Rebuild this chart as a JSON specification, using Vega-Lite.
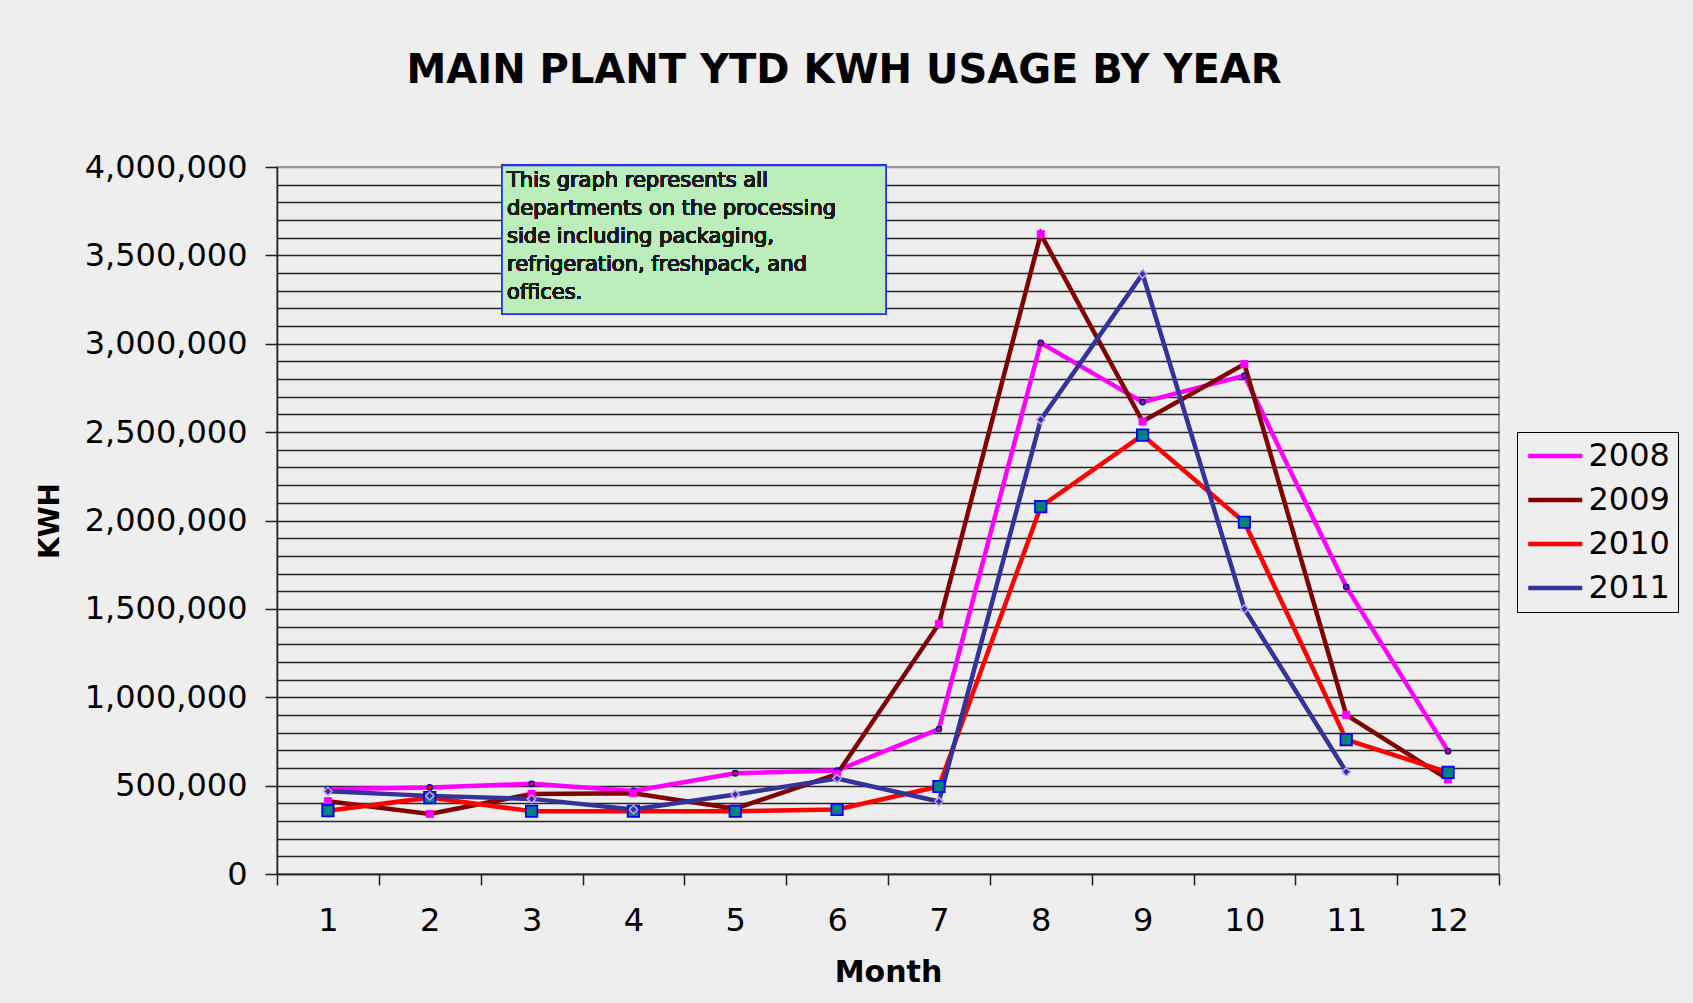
{
  "$schema": "https://vega.github.io/schema/vega-lite/v6.json",
  "autosize": "none",
  "width": 1222,
  "height": 707,
  "padding": {"left": 277, "top": 167, "right": 194, "bottom": 129},
  "background": "#eeeeee",
  "config": {
    "view": {"stroke": "#999999", "strokeWidth": 2, "fill": "#eeeeee"},
    "font": "DejaVu Sans"
  },
  "title": {
    "text": "MAIN PLANT YTD KWH USAGE BY YEAR",
    "font": "DejaVu Sans",
    "fontSize": 40,
    "fontWeight": "bold",
    "color": "black",
    "anchor": "middle",
    "frame": "group",
    "dx": -44,
    "offset": 60
  },
  "data": {
    "values": [
      {"month": 1, "year": "2008", "kwh": 480000},
      {"month": 2, "year": "2008", "kwh": 490000},
      {"month": 3, "year": "2008", "kwh": 510000},
      {"month": 4, "year": "2008", "kwh": 470000},
      {"month": 5, "year": "2008", "kwh": 570000},
      {"month": 6, "year": "2008", "kwh": 585000},
      {"month": 7, "year": "2008", "kwh": 820000},
      {"month": 8, "year": "2008", "kwh": 3005000},
      {"month": 9, "year": "2008", "kwh": 2670000},
      {"month": 10, "year": "2008", "kwh": 2820000},
      {"month": 11, "year": "2008", "kwh": 1625000},
      {"month": 12, "year": "2008", "kwh": 695000},
      {"month": 1, "year": "2009", "kwh": 412000},
      {"month": 2, "year": "2009", "kwh": 340000},
      {"month": 3, "year": "2009", "kwh": 453000},
      {"month": 4, "year": "2009", "kwh": 457000},
      {"month": 5, "year": "2009", "kwh": 370000},
      {"month": 6, "year": "2009", "kwh": 565000},
      {"month": 7, "year": "2009", "kwh": 1415000},
      {"month": 8, "year": "2009", "kwh": 3620000},
      {"month": 9, "year": "2009", "kwh": 2560000},
      {"month": 10, "year": "2009", "kwh": 2885000},
      {"month": 11, "year": "2009", "kwh": 900000},
      {"month": 12, "year": "2009", "kwh": 535000},
      {"month": 1, "year": "2010", "kwh": 358000},
      {"month": 2, "year": "2010", "kwh": 432000},
      {"month": 3, "year": "2010", "kwh": 355000},
      {"month": 4, "year": "2010", "kwh": 355000},
      {"month": 5, "year": "2010", "kwh": 355000},
      {"month": 6, "year": "2010", "kwh": 365000},
      {"month": 7, "year": "2010", "kwh": 495000},
      {"month": 8, "year": "2010", "kwh": 2078000},
      {"month": 9, "year": "2010", "kwh": 2483000},
      {"month": 10, "year": "2010", "kwh": 1990000},
      {"month": 11, "year": "2010", "kwh": 760000},
      {"month": 12, "year": "2010", "kwh": 575000},
      {"month": 1, "year": "2011", "kwh": 468000},
      {"month": 2, "year": "2011", "kwh": 442000},
      {"month": 3, "year": "2011", "kwh": 425000},
      {"month": 4, "year": "2011", "kwh": 365000},
      {"month": 5, "year": "2011", "kwh": 450000},
      {"month": 6, "year": "2011", "kwh": 540000},
      {"month": 7, "year": "2011", "kwh": 410000},
      {"month": 8, "year": "2011", "kwh": 2570000},
      {"month": 9, "year": "2011", "kwh": 3395000},
      {"month": 10, "year": "2011", "kwh": 1500000},
      {"month": 11, "year": "2011", "kwh": 578000}
    ]
  },
  "encoding": {
    "x": {
      "field": "month",
      "type": "quantitative",
      "scale": {"domain": [0.5, 12.5], "nice": false, "zero": false},
      "axis": {
        "values": [0.5, 1, 1.5, 2, 2.5, 3, 3.5, 4, 4.5, 5, 5.5, 6, 6.5, 7, 7.5, 8, 8.5, 9, 9.5, 10, 10.5, 11, 11.5, 12, 12.5],
        "labelExpr": "datum.value % 1 === 0 ? format(datum.value, 'd') : ''",
        "tickOpacity": {"condition": {"test": "datum.value % 1 !== 0", "value": 1}, "value": 0},
        "grid": false,
        "tickSize": 11,
        "tickWidth": 1.5,
        "tickColor": "#222222",
        "domainColor": "#222222",
        "domainWidth": 1.5,
        "labelFont": "DejaVu Sans",
        "labelFontSize": 32,
        "labelColor": "black",
        "labelPadding": 20,
        "labelOverlap": false,
        "labelFlush": false,
        "title": "Month",
        "titleFont": "DejaVu Sans",
        "titleFontSize": 30,
        "titleFontWeight": "bold",
        "titleColor": "black",
        "titlePadding": 21
      }
    },
    "y": {
      "field": "kwh",
      "type": "quantitative",
      "scale": {"domain": [0, 4000000], "nice": false, "zero": true},
      "axis": {
        "values": [0, 100000, 200000, 300000, 400000, 500000, 600000, 700000, 800000, 900000, 1000000, 1100000, 1200000, 1300000, 1400000, 1500000, 1600000, 1700000, 1800000, 1900000, 2000000, 2100000, 2200000, 2300000, 2400000, 2500000, 2600000, 2700000, 2800000, 2900000, 3000000, 3100000, 3200000, 3300000, 3400000, 3500000, 3600000, 3700000, 3800000, 3900000, 4000000],
        "labelExpr": "datum.value % 500000 === 0 ? format(datum.value, ',') : ''",
        "tickOpacity": {"condition": {"test": "datum.value % 500000 === 0", "value": 1}, "value": 0},
        "grid": true,
        "gridColor": {"condition": {"test": "datum.value === 4000000", "value": "#999999"}, "value": "#262626"},
        "gridWidth": 1.6,
        "tickSize": 12,
        "tickWidth": 1.5,
        "tickColor": "#222222",
        "domainColor": "#222222",
        "domainWidth": 1.5,
        "labelFont": "DejaVu Sans",
        "labelFontSize": 32,
        "labelColor": "black",
        "labelPadding": 18,
        "labelOverlap": false,
        "labelFlush": false,
        "title": "KWH",
        "titleFont": "DejaVu Sans",
        "titleFontSize": 28,
        "titleFontWeight": "bold",
        "titleColor": "black",
        "titlePadding": 20
      }
    }
  },
  "layer": [
    {
      "mark": {"type": "rect", "fill": "#bbeebb", "stroke": "#2233ee", "strokeWidth": 1.5},
      "encoding": {
        "x": {"datum": 2.71},
        "x2": {"datum": 6.48},
        "y": {"datum": 4009000},
        "y2": {"datum": 3168000}
      }
    },
    {
      "mark": {"type": "text", "align": "left", "baseline": "alphabetic", "font": "DejaVu Sans", "fontSize": 21, "fontWeight": "normal", "fill": "#1a1a1a", "strokeWidth": 0, "lineBreak": "\n", "lineHeight": 27.9},
      "encoding": {
        "x": {"datum": 2.759},
        "y": {"datum": 3887000},
        "text": {"datum": "This graph represents all\ndepartments on the processing\nside including packaging,\nrefrigeration, freshpack, and\noffices."}
      }
    },
    {
      "mark": {"type": "line", "strokeWidth": 4.5},
      "encoding": {
        "color": {
          "field": "year",
          "type": "nominal",
          "scale": {"domain": ["2008", "2009", "2010", "2011"], "range": ["#ff00ff", "#800000", "#ff0000", "#333399"]},
          "legend": {
            "orient": "none",
            "legendX": 1240,
            "legendY": 265,
            "title": null,
            "symbolType": "M-2,0H2",
            "symbolSize": 729,
            "symbolStrokeWidth": 4.5,
            "symbolOffset": 14.25,
            "labelOffset": 17.25,
            "labelFont": "DejaVu Sans",
            "labelFontSize": 32,
            "labelColor": "black",
            "rowPadding": 12,
            "padding": 8,
            "strokeColor": "black"
          }
        }
      }
    },
    {
      "transform": [{"filter": "datum.year === '2008'"}],
      "mark": {"type": "point", "shape": "circle", "filled": true, "fill": "#ff0000", "stroke": "#0000cc", "strokeWidth": 1.5, "size": 28, "opacity": 1}
    },
    {
      "transform": [{"filter": "datum.year === '2009'"}],
      "mark": {"type": "point", "shape": "square", "filled": true, "fill": "#ff00ff", "stroke": "#ff00ff", "strokeWidth": 1, "size": 50, "opacity": 1}
    },
    {
      "transform": [{"filter": "datum.year === '2010'"}],
      "mark": {"type": "point", "shape": "square", "filled": true, "fill": "#008080", "stroke": "#0000ff", "strokeWidth": 1.8, "size": 130, "opacity": 1}
    },
    {
      "transform": [{"filter": "datum.year === '2011'"}],
      "mark": {"type": "point", "shape": "diamond", "filled": true, "fill": "#333399", "stroke": "#cc99ff", "strokeWidth": 1.5, "size": 70, "opacity": 1}
    }
  ]
}
